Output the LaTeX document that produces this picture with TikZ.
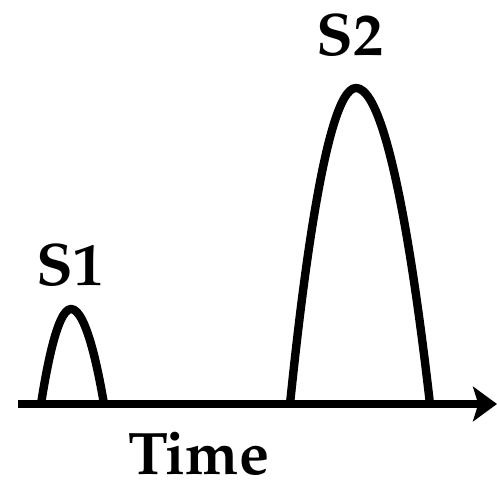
\documentclass[tikz,border=0pt]{standalone}
\usepackage[T1]{fontenc}
\usepackage{mathpazo}
\usepackage{tikz}
\usetikzlibrary{arrows.meta,positioning}

\begin{document}
\begin{tikzpicture}[
    x=0.75pt, y=-0.75pt,
    curve/.style={line width=6.3pt, line join=round},
    axis/.style={-{Stealth[length=18pt, width=26pt, inset=4pt]}, line width=6pt},
    lbl/.style={font=\fontsize{45}{50}\selectfont\bfseries, inner sep=0pt, anchor=base}
]
\useasboundingbox (0,0) rectangle (497,486);
% time axis
\coordinate (t0) at (18,404);
\coordinate (t1) at (497,404);
% the two sounds
\draw[curve] (41,404) parabola bend (71,309) (104,404);
\draw[curve] (290,404) parabola bend (356,88) (430,404);
\draw[axis] (t0) -- (t1);
\node[lbl] (s1) at (70,285) {S1};
\node[lbl] (s2) at (350,55) {S2};
\node[lbl] (time) at (199,474) {Time};
\end{tikzpicture}
\end{document}
